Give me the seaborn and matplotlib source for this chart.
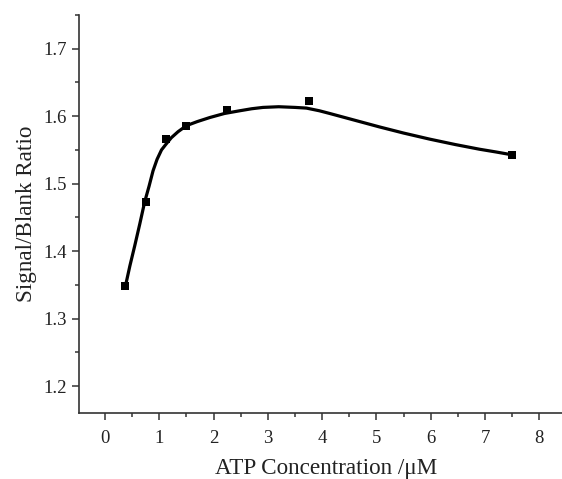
import numpy as np
import pandas as pd
import matplotlib
matplotlib.use('Agg')
import matplotlib.pyplot as plt
from matplotlib.ticker import MultipleLocator, FormatStrFormatter
import seaborn as sns

# measured points
atp_conc = [0.375, 0.75, 1.125, 1.5, 2.25, 3.75, 7.5]
ratio = [1.348, 1.473, 1.566, 1.585, 1.609, 1.622, 1.542]

# fitted curve
curve_x = [0.375, 0.457, 0.547, 0.639, 0.73, 0.81, 0.884, 0.958, 1.04, 1.118,
           1.22, 1.345, 1.5, 1.7, 1.93, 2.2, 2.48, 2.7, 2.91, 3.2, 3.5, 3.71,
           3.95, 4.14, 4.6, 5.06, 5.5, 5.98, 6.45, 6.9, 7.2, 7.48]
curve_y = [1.348, 1.378, 1.408, 1.44, 1.473, 1.496, 1.519, 1.536, 1.55, 1.558,
           1.568, 1.577, 1.586, 1.592, 1.598, 1.604, 1.608, 1.611, 1.613, 1.614,
           1.613, 1.612, 1.608, 1.604, 1.594, 1.584, 1.575, 1.566, 1.558, 1.551,
           1.547, 1.543]

sns.set_theme(style='ticks')
plt.rcParams['font.family'] = ['Liberation Serif', 'DejaVu Serif']

fig = plt.figure(figsize=(5.62, 4.79), dpi=100)
ax = fig.add_axes([0.1406, 0.1378, 0.8594, 0.8309])

pts = pd.DataFrame({'x': atp_conc, 'y': ratio})
fit = pd.DataFrame({'x': curve_x, 'y': curve_y})

sns.lineplot(data=fit, x='x', y='y', ax=ax, color='black', linewidth=2.3,
             sort=False, estimator=None)
sns.scatterplot(data=pts, x='x', y='y', ax=ax, color='black', marker='s',
                s=38, edgecolor='black', linewidth=0, zorder=3)

ax.set_xlim(-0.48, 8.42)
ax.set_ylim(1.16, 1.75)
ax.xaxis.set_major_locator(MultipleLocator(1))
ax.xaxis.set_minor_locator(MultipleLocator(0.5))
ax.yaxis.set_major_locator(MultipleLocator(0.1))
ax.yaxis.set_minor_locator(MultipleLocator(0.05))
ax.yaxis.set_major_formatter(FormatStrFormatter('%.1f'))

ax.tick_params(which='major', direction='out', length=5, width=1.1,
               labelsize=13.5, colors='#333333', labelcolor='#222222')
ax.tick_params(which='minor', direction='out', length=3, width=1.1,
               colors='#333333')
ax.tick_params(axis='x', pad=7)
ax.tick_params(axis='y', pad=4)

for side in ['top', 'right']:
    ax.spines[side].set_visible(False)
for side in ['left', 'bottom']:
    ax.spines[side].set_linewidth(1.2)
    ax.spines[side].set_color('#333333')

ax.set_xlabel('ATP Concentration /\u03bcM', fontsize=16.7, color='#222222')
ax.set_ylabel('Signal/Blank Ratio', fontsize=16.7, color='#222222')
ax.xaxis.set_label_coords(0.512, -0.112)
ax.yaxis.set_label_coords(-0.088, 0.5)

fig.savefig('out.png', dpi=100)
